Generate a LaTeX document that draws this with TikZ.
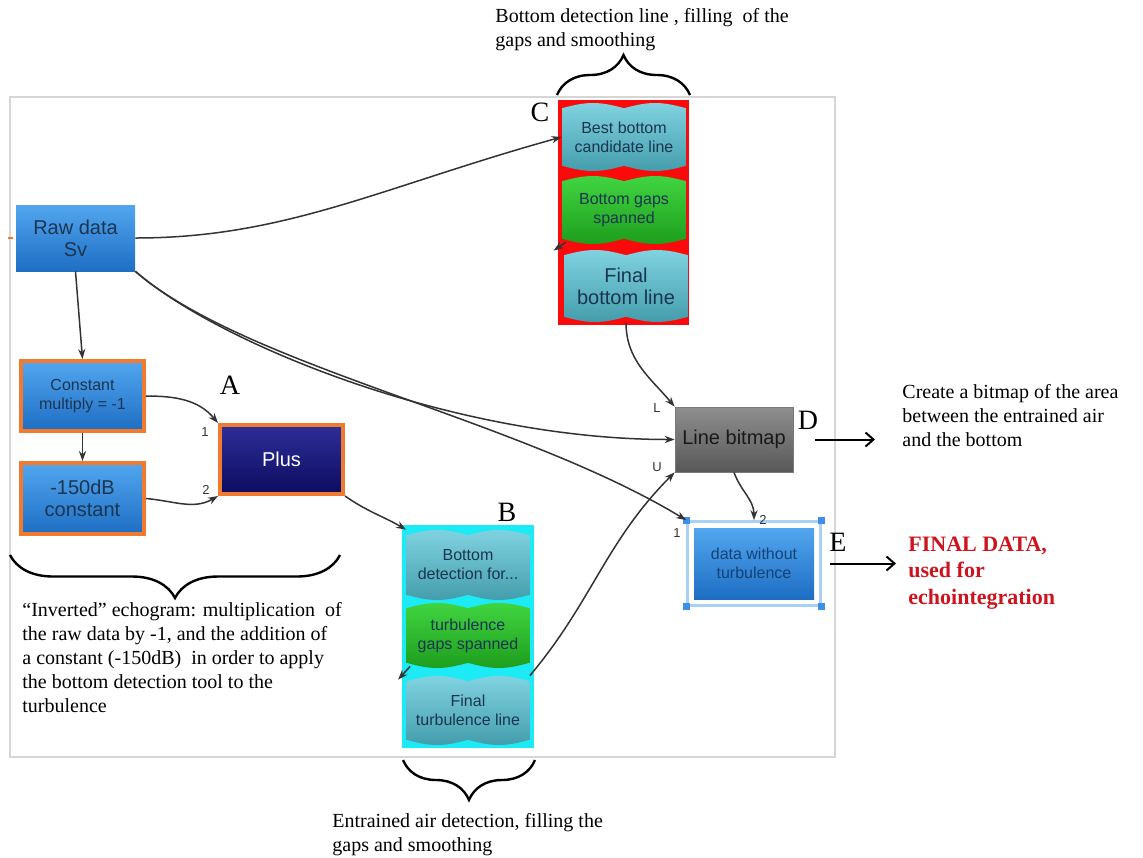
\documentclass[tikz,border=0pt]{standalone}
\usepackage{fontspec}
\setmainfont{Liberation Serif}
\setsansfont{Liberation Sans}
\usetikzlibrary{calc, positioning, fit}
\usetikzlibrary{arrows.meta}
\usetikzlibrary{decorations.pathreplacing}

\definecolor{blueT}{HTML}{52A6EE}
\definecolor{blueB}{HTML}{1E6EC4}
\definecolor{orangeE}{HTML}{F07A30}
\definecolor{navyT}{HTML}{2E2E98}
\definecolor{navyB}{HTML}{0C0C60}
\definecolor{grayT}{HTML}{8E8E8E}
\definecolor{grayB}{HTML}{585858}
\definecolor{tealT}{HTML}{80D2E0}
\definecolor{tealB}{HTML}{449DAC}
\definecolor{greenT}{HTML}{40D440}
\definecolor{greenB}{HTML}{1E9E1E}
\definecolor{redF}{HTML}{FA0A0A}
\definecolor{cyanF}{HTML}{1CEAF4}
\definecolor{selB}{HTML}{A9D0F5}
\definecolor{handleB}{HTML}{3D8FE8}
\definecolor{boxT}{HTML}{1B3550}
\definecolor{lineG}{HTML}{333333}
\definecolor{portG}{HTML}{333333}
\definecolor{finalR}{HTML}{CC141E}
\definecolor{shotG}{HTML}{D6D6D6}

\tikzset{
  flow/.style={draw=lineG, line width=0.75pt, -{Stealth[length=5pt,width=3.6pt]}},
  outarr/.style={draw=black, line width=1pt, -{Straight Barb[length=4pt,width=7pt]}},
  brc/.style={decorate, decoration={brace, amplitude=#1}, line width=1.2pt},
  box/.style={rectangle, align=center, inner sep=1pt, text=boxT},
  bigtxt/.style={font=\sffamily\fontsize{10}{11}\selectfont},
  smalltxt/.style={font=\sffamily\fontsize{8}{9.5}\selectfont},
  bluebox/.style={box, shade, top color=blueT, bottom color=blueB},
  orangebox/.style={bluebox, draw=orangeE, line width=2pt},
  wavebox/.style 2 args={box, path picture={
    \shade[top color=#1, bottom color=#2]
      let \p1=(path picture bounding box.north west),
          \p2=(path picture bounding box.south east),
          \n1={0.25*(\x2-\x1)} in
      (\x1,\y1-2.6pt) sin (\x1+\n1*1pt,\y1) cos (\x1+2*\n1*1pt,\y1-2.6pt)
        sin (\x1+3*\n1*1pt,\y1) cos (\x2,\y1-2.6pt)
      -- (\x2,\y2+2.6pt) sin (\x2-\n1*1pt,\y2) cos (\x2-2*\n1*1pt,\y2+2.6pt)
        sin (\x2-3*\n1*1pt,\y2) cos (\x1,\y2+2.6pt) -- cycle;}},
  tealwave/.style={wavebox={tealT}{tealB}},
  greenwave/.style={wavebox={greenT}{greenB}},
  letter/.style={font=\fontsize{14}{14}\selectfont, inner sep=0pt},
  port/.style={font=\sffamily\fontsize{6.5}{7}\selectfont, text=portG, inner sep=0pt},
  note/.style={align=left, anchor=west, inner sep=0pt, font=\fontsize{10}{12}\selectfont},
  selbox/.style={draw=selB, line width=1.5pt},
  handle/.style={fill=handleB, minimum size=3.5pt, inner sep=0pt},
}

\begin{document}
\begin{tikzpicture}[x=0.5pt,y=-0.5pt]
\useasboundingbox (0,0) rectangle (1143,857);
% screenshot frame
\draw[shotG, line width=0.6pt] (10,97) rectangle (835,757);
\draw[orangeE, line width=1pt] (8,238) -- (13,238);

% inverted echogram (A)
\node[bluebox, bigtxt, minimum width=59.5pt, minimum height=33pt] (raw) at (75.5,238) {Raw data\\Sv};
\node[orangebox, smalltxt, minimum width=61.5pt, minimum height=35pt] (constMul) at (82.5,396) {Constant\\multiply = -1};
\node[orangebox, bigtxt, minimum width=61.5pt, minimum height=35.5pt] (const150) at (82.5,498.5) {-150dB\\constant};
\node[box, bigtxt, shade, top color=navyT, bottom color=navyB, draw=orangeE, line width=2pt,
  text=white, minimum width=61.5pt, minimum height=34.5pt] (plus) at (281.5,459.5) {Plus};

% bottom line (C)
\fill[redF] (558,100) rectangle (689,325);
\node[tealwave, smalltxt, minimum width=62pt, minimum height=34pt] (bestC) at (624,137) {Best bottom\\candidate line};
\node[greenwave, smalltxt, minimum width=62pt, minimum height=34pt] (gapsC) at (624,210) {Bottom gaps\\spanned};
\node[tealwave, bigtxt, minimum width=62pt, minimum height=36pt] (finalC) at (626,286) {Final\\bottom line};

% turbulence line (B)
\fill[cyanF] (402,525) rectangle (534,748);
\node[tealwave, smalltxt, minimum width=61.5pt, minimum height=35pt] (detB) at (468,565) {Bottom\\detection for...};
\node[greenwave, smalltxt, minimum width=61.5pt, minimum height=32.5pt] (gapsB) at (468,635.5) {turbulence\\gaps spanned};
\node[tealwave, smalltxt, minimum width=61.5pt, minimum height=34.5pt] (finalB) at (468,710.5) {Final\\turbulence line};

% bitmap (D) and result (E)
\node[box, bigtxt, shade, top color=grayT, bottom color=grayB, draw=grayB!80, line width=0.4pt,
  text=black!90, minimum width=59pt, minimum height=32.5pt] (lineBitmap) at (734,439.5) {Line bitmap};
\node[bluebox, smalltxt, text=blueB!60!black, minimum width=60pt, minimum height=35.5pt] (noTurb) at (754,563.5) {data without\\turbulence};
\node[selbox, fit=(noTurb), inner sep=3pt] (noTurbSel) {};
\foreach \c in {north west,north east,south west,south east}
  \node[handle] at (noTurbSel.\c) {};

% connectors
\draw[flow] (raw.east) .. controls +(150,0) and +(-180,50) .. (bestC.west);
\draw[flow] (raw.south) -- (constMul.north);
\draw[flow] (constMul.south) -- (const150.north);
\draw[flow] (constMul.east) to[out=0,in=130] (plus.north west);
\draw[flow] (const150.east) to[out=-5,in=210] (plus.south west);
\draw[flow] (plus.south east) to[out=-35,in=150] (detB.north west);
\draw[flow] ($(gapsC.south west)+(4,-2)$) -- ($(finalC.north west)+(-10,1)$);
\draw[flow] ($(gapsB.south west)+(4,-2)$) -- ($(finalB.north west)+(-8,4)$);
\draw[flow] (finalC.south) to[out=-90,in=130] (lineBitmap.north west);
\draw[flow] (raw.south east) .. controls +(80,70) and +(-225,0) .. (lineBitmap.west);
\draw[flow] (raw.south east) .. controls +(110,95) and +(-168,-102) .. (noTurbSel.north west);
\draw[flow] (finalB.north east) to[out=50,in=-135] (lineBitmap.south west);
\draw[flow] (lineBitmap.south) to[out=-70,in=90] (noTurbSel.north);

% port labels
\node[port] at (205,432) {1};
\node[port] at (206,490) {2};
\node[port] at (657,408) {L};
\node[port] at (657,467) {U};
\node[port] at (677,533) {1};
\node[port] at (763,520) {2};

% group letters
\node[letter] (lblA) at (230,385) {A};
\node[letter] (lblB) at (507,512) {B};
\node[letter] (lblC) at (540,112) {C};
\node[letter] (lblD) at (808,420) {D};
\node[letter] (lblE) at (838,542) {E};

% braces
\draw[brc=20pt] (557,95) -- (690,95);
\draw[brc=21.5pt] (340,555) -- (10,555);
\draw[brc=20pt] (535,760) -- (403,760);

% notes
\node[note] (descC) at (495,30) {Bottom detection line , filling\ \ of the\\gaps and smoothing};
\node[note] (descA) at (22,657.5) {“Inverted” echogram: multiplication\ \ of\\the raw data by -1, and the addition of\\a constant (-150dB)\ \ in order to apply\\the bottom detection tool to the\\turbulence};
\node[note] (descB) at (332,834.5) {Entrained air detection, filling the\\gaps and smoothing};
\node[note] (descD) at (902,416) {Create a bitmap of the area\\between the entrained air\\and the bottom};
\node[note, text=finalR, font=\bfseries\fontsize{11}{13.25}\selectfont] (finalTxt) at (908,573) {FINAL DATA,\\used for\\echointegration};

\draw[outarr, shorten <=11pt, shorten >=13.5pt] (lineBitmap.east) -- (lineBitmap.east -| descD.west);
\draw[outarr, shorten <=4pt, shorten >=6pt] (noTurbSel.east) -- (noTurbSel.east -| finalTxt.west);
\end{tikzpicture}
\end{document}
